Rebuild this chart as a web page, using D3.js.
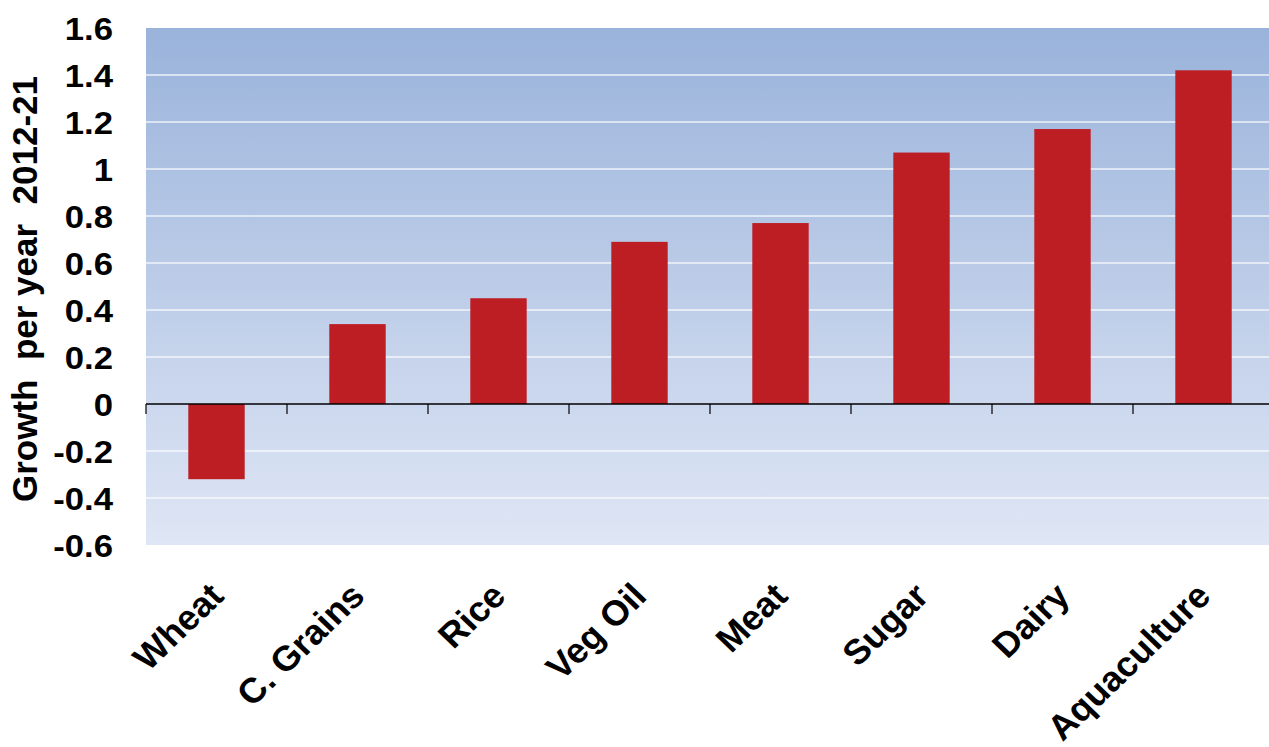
<!DOCTYPE html>
<html>
<head>
<meta charset="utf-8">
<script src="https://cdn.jsdelivr.net/npm/d3@7"></script>
<style>
  html, body { margin: 0; padding: 0; background: #fff; }
  svg text { font-family: "Liberation Sans", Arial, sans-serif; font-weight: bold; fill: #000; }
</style>
</head>
<body>
<svg id="chart" width="1269" height="747"></svg>
<script>
// Commodities and their projected growth per year, 2012-21
const categories = ["Wheat", "C. Grains", "Rice", "Veg Oil", "Meat", "Sugar", "Dairy", "Aquaculture"];
const growth = [-0.32, 0.34, 0.45, 0.69, 0.77, 1.07, 1.17, 1.42];
const yTicks = [1.6, 1.4, 1.2, 1, 0.8, 0.6, 0.4, 0.2, 0, -0.2, -0.4, -0.6];
const yTitle = "Growth  per year  2012-21";

const svg = d3.select("#chart");
const plot = { left: 146, right: 1274, top: 28, bottom: 545 };

const x = d3.scaleBand().domain(categories).range([plot.left, plot.right]).paddingInner(0.6).paddingOuter(0.3);
const xEdge = d3.scaleLinear().domain([0, categories.length]).range([plot.left, plot.right]);
const y = d3.scaleLinear().domain([-0.6, 1.6]).range([plot.bottom, plot.top]);

// Background gradient of the plotting area
const defs = svg.append("defs");
const grad = defs.append("linearGradient").attr("id", "bg").attr("x1", 0).attr("y1", 0).attr("x2", 0).attr("y2", 1);
grad.append("stop").attr("offset", "0%").attr("stop-color", "#9ab3db");
grad.append("stop").attr("offset", "100%").attr("stop-color", "#dfe6f5");

svg.append("rect")
  .attr("x", plot.left).attr("y", plot.top)
  .attr("width", plot.right - plot.left).attr("height", plot.bottom - plot.top)
  .attr("fill", "url(#bg)");

// Horizontal gridlines
svg.append("g")
  .selectAll("line")
  .data(yTicks.filter(d => d !== 0 && d !== 1.6 && d !== -0.6))
  .join("line")
  .attr("x1", plot.left).attr("x2", plot.right)
  .attr("y1", d => y(d)).attr("y2", d => y(d))
  .attr("stroke", "#ffffff").attr("stroke-opacity", 0.8).attr("stroke-width", 1.5);

// Bars
svg.append("g")
  .selectAll("rect")
  .data(categories.map((c, i) => ({ c, v: growth[i] })))
  .join("rect")
  .attr("x", d => x(d.c))
  .attr("width", x.bandwidth())
  .attr("y", d => y(Math.max(0, d.v)))
  .attr("height", d => Math.abs(y(d.v) - y(0)))
  .attr("fill", "#bd1e24");

// Zero axis line with category divider ticks
const zeroAxis = svg.append("g");
zeroAxis.append("line")
  .attr("x1", plot.left).attr("x2", plot.right)
  .attr("y1", y(0)).attr("y2", y(0))
  .attr("stroke", "#000").attr("stroke-width", 1.5);
zeroAxis.selectAll("line.tick")
  .data(d3.range(0, categories.length + 1))
  .join("line")
  .attr("class", "tick")
  .attr("x1", d => xEdge(d)).attr("x2", d => xEdge(d))
  .attr("y1", y(0)).attr("y2", y(0) + 10)
  .attr("stroke", "#000").attr("stroke-width", 1.2);

// Y-axis labels (plain hyphen for negatives, slightly widened glyphs)
const yAxis = d3.axisLeft(y).tickValues(yTicks)
  .tickFormat(d => String(d))
  .tickSize(0).tickPadding(0);
const yg = svg.append("g").attr("transform", `translate(113,0)`).call(yAxis);
yg.select(".domain").remove();
yg.selectAll("text")
  .attr("x", 0)
  .attr("dy", "0.36em")
  .attr("transform", "scale(1.12,1)")
  .attr("fill", "#000")
  .style("font-size", "31px")
  .style("font-family", "'Liberation Sans', Arial, sans-serif")
  .style("font-weight", "bold");

// Y-axis title
svg.append("text")
  .attr("transform", `translate(37, 289) rotate(-90)`)
  .attr("text-anchor", "middle")
  .style("font-size", "35px")
  .style("white-space", "pre")
  .text(yTitle);

// Category labels, rotated
svg.append("g")
  .selectAll("text")
  .data(categories)
  .join("text")
  .attr("transform", d => `translate(${x(d) + x.bandwidth() / 2 + 9}, 598) scale(1.04,1) rotate(-45)`)
  .attr("text-anchor", "end")
  .style("font-size", "35px")
  .text(d => d);
</script>
</body>
</html>
